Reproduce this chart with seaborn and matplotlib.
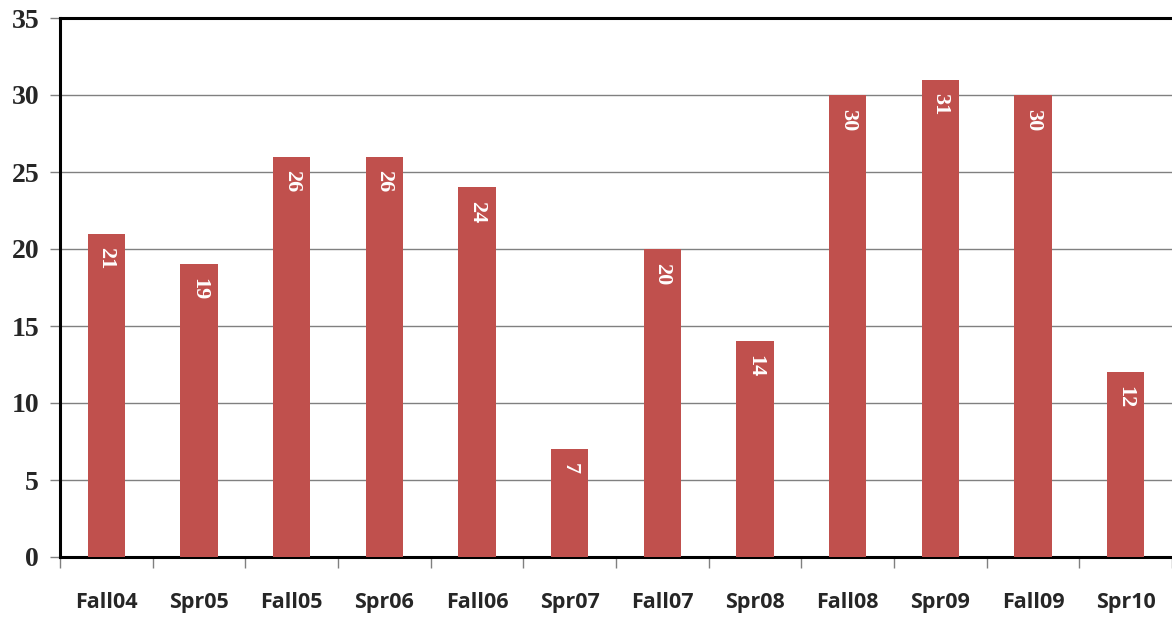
import matplotlib
matplotlib.use('Agg')
import matplotlib.pyplot as plt
import seaborn as sns
import pandas as pd
from matplotlib.ticker import FixedLocator, MultipleLocator

terms = ['Fall04', 'Spr05', 'Fall05', 'Spr06', 'Fall06', 'Spr07',
         'Fall07', 'Spr08', 'Fall08', 'Spr09', 'Fall09', 'Spr10']
counts = [21, 19, 26, 26, 24, 7, 20, 14, 30, 31, 30, 12]

df = pd.DataFrame({'term': terms, 'count': counts})

sns.set_style('white')
fig = plt.figure(figsize=(11.72, 6.17), dpi=100)
ax = fig.add_axes([60 / 1172, 1 - 557 / 617, 1 - 60 / 1172, (557 - 18) / 617])

sns.barplot(x='term', y='count', data=df, color='#C0504D', width=0.4,
            saturation=1, linewidth=0, ax=ax, zorder=3)

# value labels inside the bars, rotated
for i, v in enumerate(counts):
    ax.annotate(str(v), xy=(i, v), xytext=(0, -10), textcoords='offset points',
                rotation=270, ha='center', va='top', color='white',
                fontsize=16, fontweight='bold', family='Liberation Serif',
                zorder=4)

ax.set_ylim(0, 35)
ax.set_xlim(-0.5, len(terms) - 0.5)
ax.yaxis.set_major_locator(MultipleLocator(5))
ax.grid(axis='y', color='#808080', linewidth=1, zorder=0)
ax.set_xlabel('')
ax.set_ylabel('')

# y tick labels
ax.tick_params(axis='y', length=7, width=1, color='#808080', left=True, pad=8)
for lab in ax.get_yticklabels():
    lab.set_family('Liberation Serif')
    lab.set_fontweight('bold')
    lab.set_fontsize(20)

# x tick labels at centres, tick marks at category boundaries
ax.tick_params(axis='x', which='major', length=0, pad=25)
ax.xaxis.set_minor_locator(FixedLocator([i + 0.5 for i in range(-1, len(terms))]))
ax.tick_params(axis='x', which='minor', length=8, width=1, color='#808080', bottom=True)
for lab in ax.get_xticklabels():
    lab.set_family('Open Sans')
    lab.set_fontweight('bold')
    lab.set_fontsize(15.5)

for side in ['left', 'top', 'bottom']:
    ax.spines[side].set_visible(True)
    ax.spines[side].set_color('black')
    ax.spines[side].set_linewidth(2.2)
ax.spines['right'].set_visible(False)

fig.savefig('out.png', dpi=100)
